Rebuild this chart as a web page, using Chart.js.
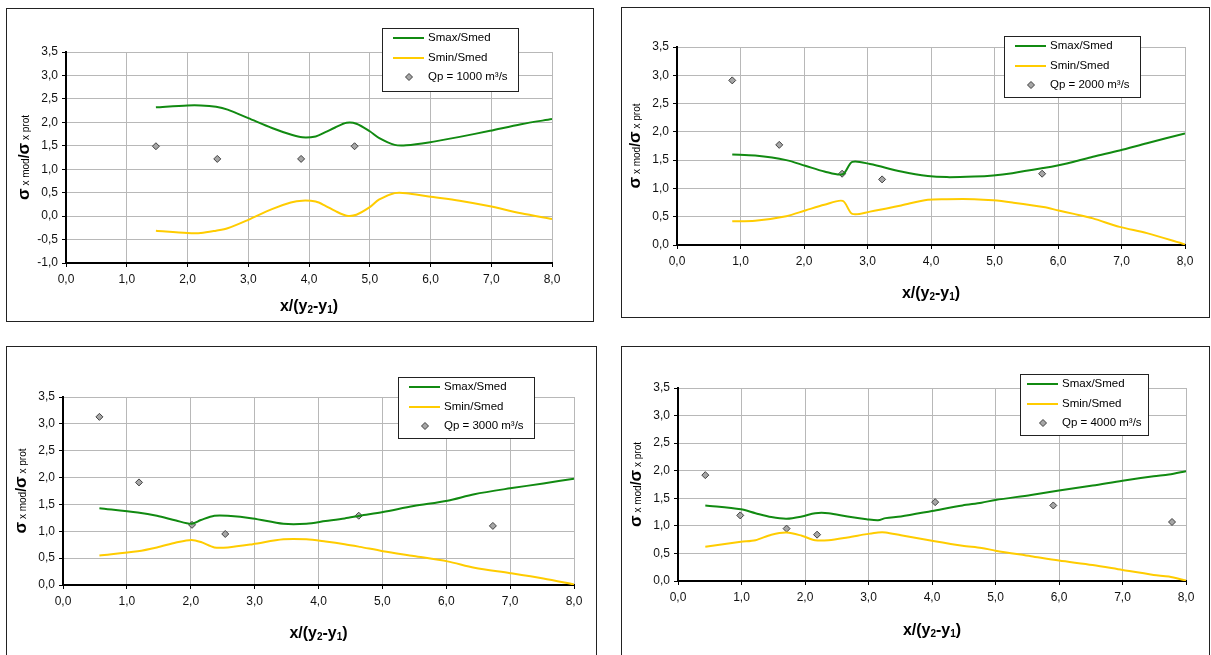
<!DOCTYPE html>
<html>
<head>
<meta charset="utf-8">
<title>Smax/Smed - Smin/Smed</title>
<script src="https://cdn.jsdelivr.net/npm/chart.js@4.4.0/dist/chart.umd.min.js"></script>
<style>
  body { margin: 0; background: #fff; width: 1211px; height: 655px; overflow: hidden; position: relative; }
  .panel { position: absolute; border: 1px solid #222; box-sizing: border-box; background: #fff; overflow: hidden; }
  .panel canvas { position: absolute; left: 0; top: 0; }
</style>
</head>
<body>
<div class="panel" id="p1"><canvas id="c1"></canvas></div>
<div class="panel" id="p2"><canvas id="c2"></canvas></div>
<div class="panel" id="p3"><canvas id="c3"></canvas></div>
<div class="panel" id="p4"><canvas id="c4"></canvas></div>
<script>
'use strict';

// Data
var seriesNames = ['Smax/Smed', 'Smin/Smed'];
var qpLabels = ['Qp = 1000 m³/s', 'Qp = 2000 m³/s', 'Qp = 3000 m³/s', 'Qp = 4000 m³/s'];
var xTicks = [0, 1, 2, 3, 4, 5, 6, 7, 8];
var yTicks1 = [-1, -0.5, 0, 0.5, 1, 1.5, 2, 2.5, 3, 3.5];
var yTicks = [0, 0.5, 1, 1.5, 2, 2.5, 3, 3.5];

// Qp = 1000
var x1 = [1.48, 2.0, 2.22, 2.47, 2.66, 3.0, 3.39, 3.70, 3.89, 4.11, 4.27, 4.43, 4.62, 4.78, 5.0, 5.15, 5.41, 5.6, 5.97, 6.48, 6.98, 7.49, 8.0];
var smax1 = [2.32, 2.36, 2.36, 2.33, 2.27, 2.09, 1.88, 1.74, 1.68, 1.70, 1.79, 1.89, 1.99, 1.97, 1.81, 1.67, 1.52, 1.51, 1.57, 1.69, 1.82, 1.96, 2.07];
var smin1 = [-0.31, -0.36, -0.36, -0.31, -0.26, -0.08, 0.15, 0.29, 0.33, 0.31, 0.22, 0.11, 0.01, 0.03, 0.19, 0.35, 0.49, 0.49, 0.42, 0.33, 0.21, 0.06, -0.06];
var qpX1 = [1.48, 2.49, 3.87, 4.75];
var qpY1 = [1.49, 1.22, 1.22, 1.49];

// Qp = 2000
var x2 = [0.87, 1.23, 1.72, 2.02, 2.32, 2.61, 2.76, 3.04, 3.53, 3.95, 4.25, 4.68, 4.98, 5.28, 5.77, 6.01, 6.25, 6.55, 6.97, 7.40, 8.0];
var smax2 = [1.60, 1.58, 1.50, 1.40, 1.30, 1.25, 1.47, 1.43, 1.30, 1.22, 1.20, 1.21, 1.23, 1.27, 1.36, 1.41, 1.47, 1.56, 1.67, 1.80, 1.97];
var smin2 = [0.42, 0.43, 0.51, 0.61, 0.71, 0.78, 0.55, 0.59, 0.70, 0.80, 0.81, 0.81, 0.79, 0.75, 0.67, 0.61, 0.55, 0.47, 0.32, 0.21, 0.01];
var qpX2 = [0.87, 1.61, 2.60, 3.23, 5.75];
var qpY2 = [2.91, 1.77, 1.26, 1.16, 1.26];

// Qp = 3000
var x3 = [0.57, 1.17, 1.47, 1.77, 2.01, 2.16, 2.37, 2.58, 2.97, 3.45, 3.81, 4.11, 4.41, 4.65, 5.01, 5.49, 6.02, 6.44, 7.0, 7.52, 8.0];
var smax3 = [1.43, 1.35, 1.29, 1.20, 1.14, 1.21, 1.29, 1.29, 1.24, 1.14, 1.14, 1.19, 1.24, 1.29, 1.36, 1.47, 1.57, 1.69, 1.80, 1.89, 1.98];
var smin3 = [0.55, 0.63, 0.70, 0.79, 0.84, 0.80, 0.70, 0.70, 0.76, 0.85, 0.85, 0.81, 0.76, 0.71, 0.63, 0.54, 0.44, 0.32, 0.22, 0.12, 0.01];
var qpX3 = [0.57, 1.19, 2.02, 2.54, 4.63, 6.73];
var qpY3 = [3.13, 1.91, 1.12, 0.95, 1.29, 1.10];

// Qp = 4000
var x4 = [0.43, 0.99, 1.22, 1.47, 1.71, 1.95, 2.16, 2.37, 2.67, 2.97, 3.15, 3.27, 3.51, 4.0, 4.48, 4.78, 5.0, 5.56, 6.0, 6.53, 7.0, 7.49, 7.73, 8.0];
var smax4 = [1.37, 1.30, 1.23, 1.16, 1.13, 1.17, 1.23, 1.23, 1.17, 1.12, 1.10, 1.14, 1.17, 1.27, 1.37, 1.42, 1.47, 1.56, 1.64, 1.73, 1.82, 1.90, 1.93, 1.99];
var smin4 = [0.62, 0.71, 0.74, 0.84, 0.88, 0.82, 0.74, 0.74, 0.79, 0.85, 0.88, 0.88, 0.83, 0.73, 0.64, 0.60, 0.55, 0.45, 0.37, 0.29, 0.20, 0.11, 0.08, 0.01];
var qpX4 = [0.43, 0.98, 1.71, 2.19, 4.05, 5.91, 7.78];
var qpY4 = [1.92, 1.19, 0.95, 0.84, 1.43, 1.37, 1.07];

// Page layout: panel box, plot area and legend box (page pixels)
var panels = [
  { id: 1, box: [6, 8, 588, 314], area: [66, 52, 552, 263], legend: [382, 28, 136, 63], inset: 0, titleGap: 43,
    x: x1, smax: smax1, smin: smin1, qpX: qpX1, qpY: qpY1, yTicks: yTicks1, qp: qpLabels[0] },
  { id: 2, box: [621, 7, 589, 311], area: [677, 47, 1185, 245], legend: [1004, 36, 136, 61], inset: 0, titleGap: 48,
    x: x2, smax: smax2, smin: smin2, qpX: qpX2, qpY: qpY2, yTicks: yTicks, qp: qpLabels[1] },
  { id: 3, box: [6, 346, 591, 320], area: [63, 397, 574, 585], legend: [398, 377, 136, 61], inset: 0, titleGap: 48,
    x: x3, smax: smax3, smin: smin3, qpX: qpX3, qpY: qpY3, yTicks: yTicks, qp: qpLabels[2] },
  { id: 4, box: [621, 346, 589, 320], area: [678, 388, 1186, 581], legend: [1020, 374, 128, 61], inset: -4, titleGap: 49,
    x: x4, smax: smax4, smin: smin4, qpX: qpX4, qpY: qpY4, yTicks: yTicks, qp: qpLabels[3] }
];

var GREEN = '#118a11';
var YELLOW = '#ffcc00';
var FONT = '"Liberation Sans", Arial, sans-serif';
var Y_AXIS_W = 50;
var X_AXIS_H = 30;

function toPoints(xs, ys) {
  var pts = [];
  for (var i = 0; i < xs.length; i++) {
    pts.push({ x: xs[i], y: ys[i] });
  }
  return pts;
}

function fmt(v) {
  return Number(v).toFixed(1).replace('.', ',');
}

// draw text made of several runs (different font / vertical shift), centred on x
function drawRuns(ctx, runs, x, y) {
  var total = 0;
  runs.forEach(function(r) {
    ctx.font = r.f;
    r.w = ctx.measureText(r.t).width;
    total += r.w;
  });
  var cx = x - total / 2;
  runs.forEach(function(r) {
    ctx.font = r.f;
    ctx.fillText(r.t, cx, y + (r.dy || 0));
    cx += r.w;
  });
}

function drawDiamond(ctx, x, y, r) {
  ctx.beginPath();
  ctx.moveTo(x, y - r);
  ctx.lineTo(x + r, y);
  ctx.lineTo(x, y + r);
  ctx.lineTo(x - r, y);
  ctx.closePath();
  ctx.fillStyle = '#a6a6a6';
  ctx.fill();
  ctx.lineWidth = 1;
  ctx.strokeStyle = '#404040';
  ctx.stroke();
}

var decorPlugin = {
  id: 'decor',
  afterDraw: function(chart, args, opts) {
    var ctx = chart.ctx;
    var area = chart.chartArea;
    ctx.save();
    ctx.fillStyle = '#000';
    ctx.textAlign = 'left';
    ctx.textBaseline = 'alphabetic';

    // x axis title
    var bold = 'bold 16px ' + FONT;
    var sub = 'bold 10px ' + FONT;
    drawRuns(ctx, [
      { t: 'x/(y', f: bold }, { t: '2', f: sub, dy: 2 },
      { t: '-y', f: bold }, { t: '1', f: sub, dy: 2 }, { t: ')', f: bold }
    ], (area.left + area.right) / 2, area.bottom + opts.titleGap + 5);

    // y axis title
    ctx.save();
    ctx.translate(area.left - 42, (area.top + area.bottom) / 2);
    ctx.rotate(-Math.PI / 2);
    var sig = 'bold 17px ' + FONT;
    var small = '10px ' + FONT;
    drawRuns(ctx, [
      { t: 'σ', f: sig }, { t: ' x mod', f: small }, { t: '/', f: 'bold 14px ' + FONT },
      { t: 'σ', f: sig }, { t: ' x prot', f: small }
    ], 0, 5);
    ctx.restore();

    // legend box
    var L = opts.legend;
    var lx = L[0] + opts.inset;
    ctx.fillStyle = '#fff';
    ctx.fillRect(L[0], L[1], L[2], L[3]);
    ctx.strokeStyle = '#222';
    ctx.lineWidth = 1;
    ctx.strokeRect(L[0] + 0.5, L[1] + 0.5, L[2], L[3]);
    var rows = [L[1] + 10, L[1] + 30, L[1] + 49];
    ctx.lineWidth = 2;
    ctx.strokeStyle = GREEN;
    ctx.beginPath(); ctx.moveTo(lx + 11, rows[0]); ctx.lineTo(lx + 42, rows[0]); ctx.stroke();
    ctx.strokeStyle = YELLOW;
    ctx.beginPath(); ctx.moveTo(lx + 11, rows[1]); ctx.lineTo(lx + 42, rows[1]); ctx.stroke();
    drawDiamond(ctx, lx + 27, rows[2], 3.5);
    ctx.fillStyle = '#000';
    ctx.font = '11.5px ' + FONT;
    ctx.textBaseline = 'middle';
    ctx.fillText(seriesNames[0], lx + 46, rows[0]);
    ctx.fillText(seriesNames[1], lx + 46, rows[1]);
    ctx.fillText(opts.qp, lx + 46, rows[2]);
    ctx.restore();
  }
};

function drawPanel(p) {
  var div = document.getElementById('p' + p.id);
  div.style.left = p.box[0] + 'px';
  div.style.top = p.box[1] + 'px';
  div.style.width = p.box[2] + 'px';
  div.style.height = p.box[3] + 'px';

  // canvas starts inside the 1px border
  var ox = p.box[0] + 1;
  var oy = p.box[1] + 1;
  var cw = p.box[2] - 2;
  var ch = p.box[3] - 2;
  var canvas = document.getElementById('c' + p.id);
  canvas.width = cw;
  canvas.height = ch;
  canvas.style.width = cw + 'px';
  canvas.style.height = ch + 'px';

  var ticks = p.yTicks;
  new Chart(canvas.getContext('2d'), { //eslint-disable-line
    type: 'scatter',
    data: {
      datasets: [
        {
          label: seriesNames[0],
          data: toPoints(p.x, p.smax),
          showLine: true,
          borderColor: GREEN,
          borderWidth: 2,
          pointRadius: 0,
          tension: 0.3
        },
        {
          label: seriesNames[1],
          data: toPoints(p.x, p.smin),
          showLine: true,
          borderColor: YELLOW,
          borderWidth: 2,
          pointRadius: 0,
          tension: 0.3
        },
        {
          label: p.qp,
          data: toPoints(p.qpX, p.qpY),
          showLine: false,
          pointStyle: 'rectRot',
          pointRadius: 3.5,
          backgroundColor: '#a6a6a6',
          borderColor: '#404040',
          borderWidth: 1
        }
      ]
    },
    options: {
      responsive: false,
      animation: false,
      events: [],
      layout: {
        padding: {
          left: p.area[0] - ox - Y_AXIS_W,
          top: p.area[1] - oy,
          right: cw - (p.area[2] - ox),
          bottom: ch - (p.area[3] - oy) - X_AXIS_H
        }
      },
      scales: {
        x: {
          type: 'linear',
          min: xTicks[0],
          max: xTicks[xTicks.length - 1],
          afterBuildTicks: function(scale) {
            scale.ticks = xTicks.map(function(v) { return { value: v }; });
          },
          afterFit: function(scale) { scale.height = X_AXIS_H; },
          grid: { color: '#b8b8b8', lineWidth: 1, tickColor: '#000', tickLength: 4 },
          border: { color: '#000', width: 2 },
          ticks: {
            callback: fmt,
            color: '#111',
            padding: 5,
            maxRotation: 0,
            font: { family: FONT, size: 12 }
          }
        },
        y: {
          type: 'linear',
          min: ticks[0],
          max: ticks[ticks.length - 1],
          afterBuildTicks: function(scale) {
            scale.ticks = ticks.map(function(v) { return { value: v }; });
          },
          afterFit: function(scale) { scale.width = Y_AXIS_W; },
          grid: { color: '#b8b8b8', lineWidth: 1, tickColor: '#000', tickLength: 4 },
          border: { color: '#000', width: 2 },
          ticks: {
            callback: fmt,
            color: '#111',
            padding: 4,
            font: { family: FONT, size: 12 }
          }
        }
      },
      plugins: {
        legend: { display: false },
        tooltip: { enabled: false },
        decor: {
          titleGap: p.titleGap,
          qp: p.qp,
          inset: p.inset,
          legend: [p.legend[0] - ox, p.legend[1] - oy, p.legend[2], p.legend[3]]
        }
      }
    },
    plugins: [decorPlugin]
  });
}

panels.forEach(drawPanel);
</script>
</body>
</html>
